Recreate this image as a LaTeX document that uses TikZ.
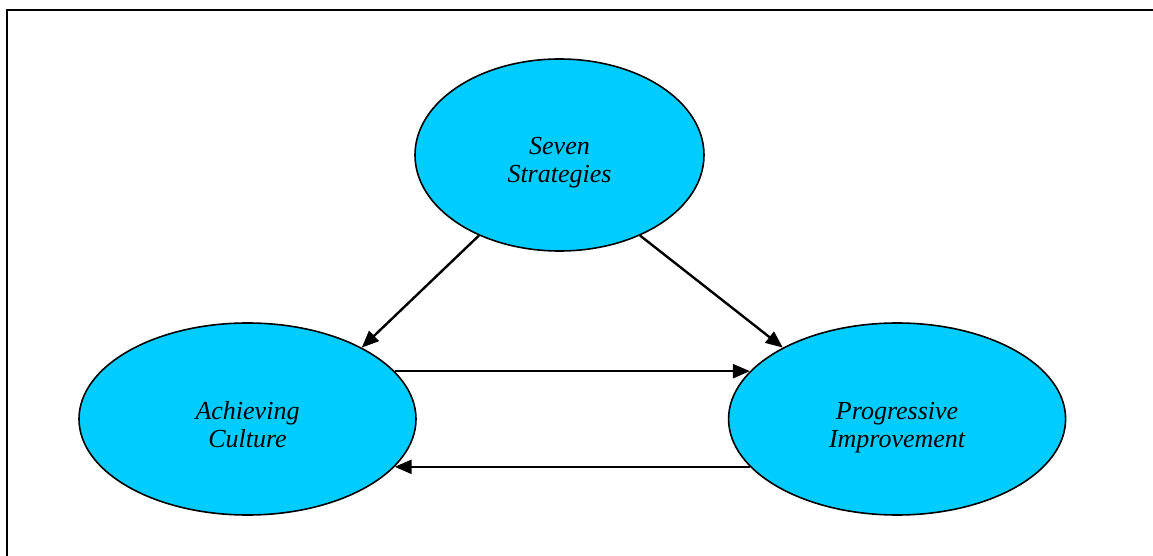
\documentclass[tikz,border=0pt]{standalone}
\usepackage{fontspec}
\setmainfont{Liberation Serif}
\usepackage{tikz}
\usetikzlibrary{arrows.meta,positioning,shapes.geometric}
\definecolor{cyanfill}{HTML}{00CCFF}

\begin{document}
\begin{tikzpicture}[x=0.5pt,y=-0.5pt,>={Triangle[length=8.5pt,width=7pt]},
  oval/.style={draw,ellipse,fill=cyanfill,line width=0.8pt,inner sep=0pt,align=center,font=\fontsize{13}{14}\selectfont\itshape,text height=30pt,text depth=2pt,minimum height=96pt}]
\useasboundingbox (0,0) rectangle (1153,556);
\draw[line width=1pt] (7,556)--(7,10)--(1153,10);
\node[oval,minimum width=144.5pt] (ss) at (559.5,155) {Seven\\Strategies};
\node[oval,minimum width=168.5pt] (ac) at (247.5,419) {Achieving\\Culture};
\node[oval,minimum width=168.5pt,right=155.5pt of ac] (pi) {Progressive\\Improvement};
\draw[->,line width=1.2pt] (ss.225)--(ac.32);
\draw[->,line width=1.2pt] (ss.315)--(pi.148);
\draw[->,line width=1.2pt] (ac.18)--(pi.162);
\draw[->,line width=1.2pt] (pi.198)--(ac.342);
\end{tikzpicture}
\end{document}
